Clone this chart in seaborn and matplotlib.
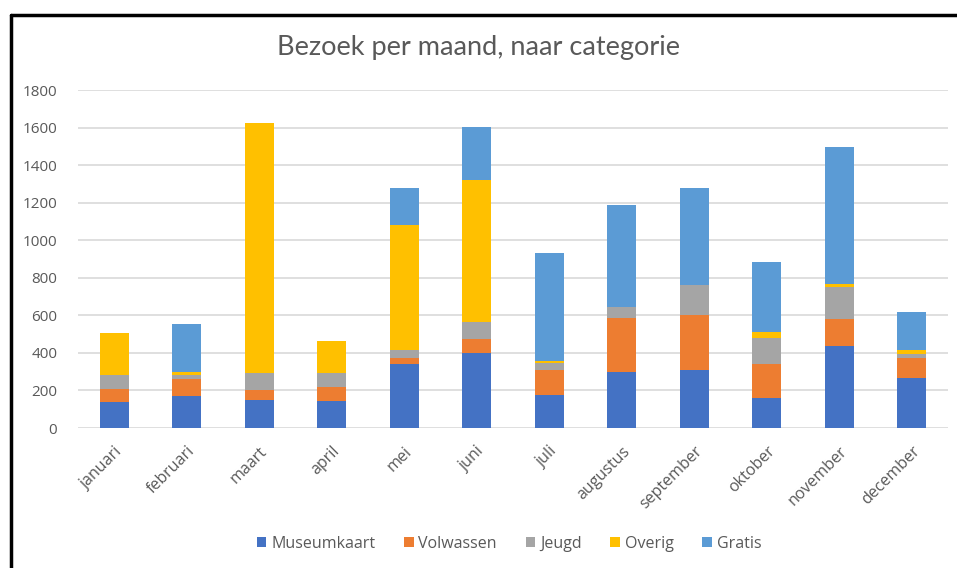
import numpy as np
import pandas as pd
import matplotlib
matplotlib.use("Agg")
import matplotlib.pyplot as plt
import seaborn as sns
from matplotlib.lines import Line2D
from matplotlib.patches import Patch

maanden = ['januari', 'februari', 'maart', 'april', 'mei', 'juni', 'juli',
           'augustus', 'september', 'oktober', 'november', 'december']
categorieen = ['Museumkaart', 'Volwassen', 'Jeugd', 'Overig', 'Gratis']

museumkaart = [137, 169, 151, 146, 341, 400, 178, 299, 307, 160, 439, 267]
volwassen = [73, 92, 50, 73, 32, 73, 129, 287, 295, 181, 140, 106]
jeugd = [74, 23, 92, 74, 41, 89, 41, 57, 157, 139, 173, 23]
overig = [222, 16, 1331, 171, 666, 757, 7, 0, 0, 32, 17, 20]
gratis = [0, 254, 0, 0, 198, 286, 576, 542, 519, 371, 729, 202]

kleuren = ['#4472C4', '#ED7D31', '#A5A5A5', '#FFC000', '#5B9BD5']

df = pd.DataFrame({'maand': maanden, 'Museumkaart': museumkaart, 'Volwassen': volwassen,
                   'Jeugd': jeugd, 'Overig': overig, 'Gratis': gratis})

sns.set_style("white")
plt.rcParams['font.family'] = ['Open Sans', 'DejaVu Sans']
grijs = '#595959'

fig = plt.figure(figsize=(9.57, 5.68), dpi=100)
ax = fig.add_axes([78 / 957, 140 / 568, 870 / 957, 338 / 568])

bodem = np.zeros(len(maanden))
for cat, kleur in zip(categorieen, kleuren):
    sns.barplot(data=df, x='maand', y=cat, color=kleur, saturation=1, width=0.4,
                bottom=bodem, ax=ax, linewidth=0, zorder=3)
    bodem = bodem + df[cat].to_numpy()

ax.set_ylim(0, 1800)
ax.set_xlim(-0.5, 11.5)
ax.set_yticks(range(0, 1801, 200))
ax.yaxis.grid(True, color='#D9D9D9', linewidth=1.2, zorder=0)
ax.xaxis.grid(False)
sns.despine(ax=ax, left=True, bottom=True, top=True, right=True)
ax.set_xlabel('')
ax.set_ylabel('')
ax.tick_params(axis='y', labelsize=11, labelcolor=grijs, length=0, pad=15)
ax.tick_params(axis='x', labelsize=11.5, labelcolor=grijs, length=0, pad=11)
for lbl in ax.get_xticklabels():
    lbl.set_rotation(45)
    lbl.set_ha('right')
    lbl.set_rotation_mode('anchor')

fig.text(0.5, 1 - 48 / 568, 'Bezoek per maand, naar categorie', ha='center', va='center',
         fontsize=19.5, color=grijs, family=['Lato', 'DejaVu Sans'])

handles = [Patch(facecolor=k, edgecolor='none') for k in kleuren]
fig.legend(handles, categorieen, loc='center', bbox_to_anchor=(509 / 957, 1 - 544 / 568),
           ncol=5, frameon=False, fontsize=11.5, labelcolor=grijs,
           handlelength=0.6, handleheight=0.6, handletextpad=0.3, columnspacing=1.8)

# zwarte rand van de schermafdruk
fig.add_artist(Line2D([11 / 957, 1], [1 - 15 / 568, 1 - 15 / 568], color='black', linewidth=2.5))
fig.add_artist(Line2D([11 / 957, 11 / 957], [0, 1 - 15 / 568], color='black', linewidth=2.5))

fig.savefig('out.png', dpi=100)
